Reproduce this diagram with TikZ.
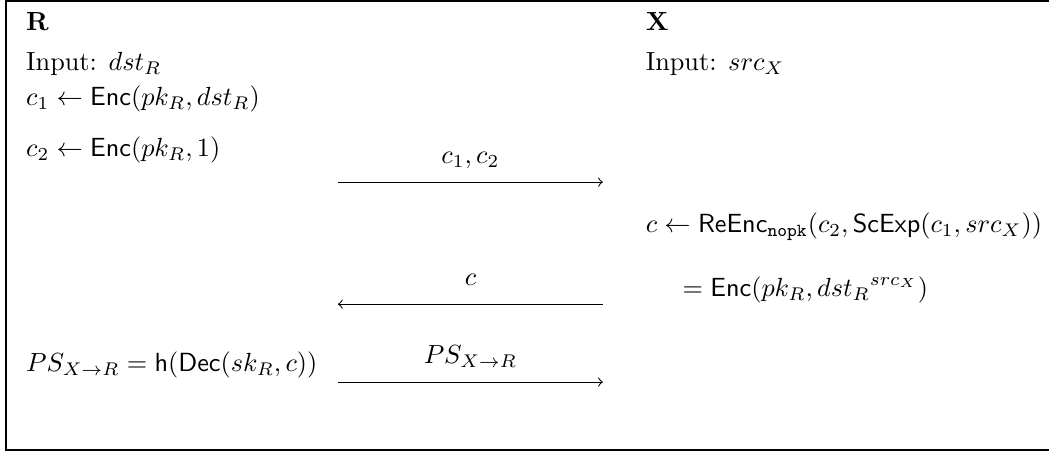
\documentclass[tikz,border=0pt]{standalone}
\usepackage{amsmath}
\begin{document}
\begin{tikzpicture}[scale=1.075, txt/.style={anchor=base west, inner sep=0pt}, lbl/.style={anchor=base, inner sep=0pt, yshift=7pt}]
  \useasboundingbox (0,0) rectangle (13.07,5.63);
  \draw[line width=0.75pt] (13.07,5.615) -- (0.07,5.615) -- (0.07,0.025) -- (13.07,0.025);
  \node[txt] (R) at (0.32,5.25) {\textbf{R}};
  \node[txt] (inR) at (0.32,4.75) {Input: $dst_R$};
  \node[txt] (c1) at (0.32,4.31) {$c_1 \leftarrow \mathsf{Enc}(pk_R, dst_R)$};
  \node[txt] (c2) at (0.32,3.68) {$c_2 \leftarrow \mathsf{Enc}(pk_R, 1)$};
  \node[txt] (ps) at (0.32,1.0) {$PS_{X\rightarrow R} = \mathsf{h}(\mathsf{Dec}(sk_R, c))$};
  \node[txt] (X) at (8.04,5.25) {\textbf{X}};
  \node[txt] (inX) at (8.04,4.75) {Input: $src_X$};
  \node[txt] (reenc) at (8.04,2.73) {$c \leftarrow \mathsf{ReEnc}_{\mathtt{nopk}}(c_2, \mathsf{ScExp}(c_1, src_X))$};
  \node[txt] (eq) at (8.50,1.93) {$= \mathsf{Enc}(pk_R, {dst_R}^{src_X})$};
  \coordinate (a1) at (4.21,3.36);
  \coordinate (b1) at (7.51,3.36);
  \coordinate (a2) at (4.21,1.84);
  \coordinate (b2) at (7.51,1.84);
  \coordinate (a3) at (4.21,0.87);
  \coordinate (b3) at (7.51,0.87);
  \draw[->] (a1) -- node[lbl] (m1) {$c_1, c_2$} (b1);
  \draw[->] (b2) -- node[lbl] (m2) {$c$} (a2);
  \draw[->] (a3) -- node[lbl] (m3) {$PS_{X\rightarrow R}$} (b3);
\end{tikzpicture}
\end{document}
